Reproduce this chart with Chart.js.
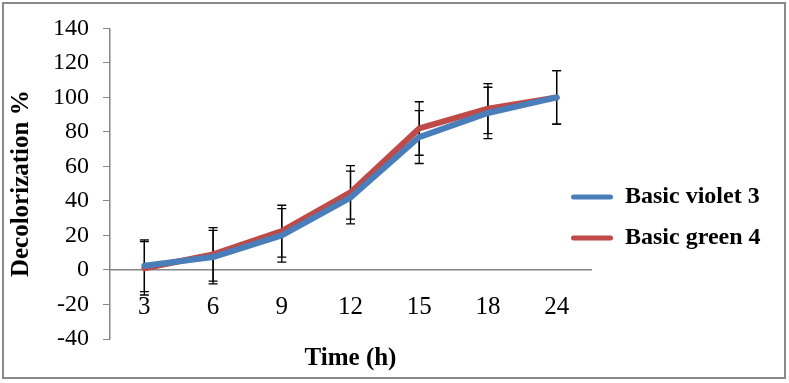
<!DOCTYPE html>
<html>
<head>
<meta charset="utf-8">
<script src="https://cdn.jsdelivr.net/npm/chart.js@4.4.0/dist/chart.umd.min.js"></script>
<style>
  html, body { margin: 0; padding: 0; background: #fff; }
</style>
</head>
<body>
<canvas id="decolorChart" width="789" height="383"></canvas>
<script>
// Decolorization (%) of two dyes over time, with error bars

var timeLabels = ['3', '6', '9', '12', '15', '18', '24'];
var violetValues = [2.5, 7.5, 20, 42, 77, 91, 100];
var violetErrors = [15, 15.5, 15.5, 15.3, 15.3, 14.9, 15.5];
var greenValues = [1, 9, 22.5, 45, 82, 93.5, 100];
var greenErrors = [15.5, 15.5, 15, 15.5, 15.5, 14.5, 15.5];
var yMin = -40, yMax = 140, yStep = 20;

var errorSets = [violetErrors, greenErrors];
var axisGrey = '#868686';
var serif = 'Liberation Serif';

// white page + grey frame round the whole picture
var frame = {
    id: 'frame',
    beforeDraw: function (chart) {
        var c = chart.ctx;
        c.save();
        c.fillStyle = '#fff';
        c.fillRect(0, 0, chart.width, chart.height);
        c.strokeStyle = '#8a8a8a';
        c.lineWidth = 2;
        c.strokeRect(3, 3, chart.width - 7, chart.height - 8);
        c.restore();
    }
};

// vertical error bars, drawn under the lines
var errorBars = {
    id: 'errorBars',
    beforeDatasetsDraw: function (chart) {
        var c = chart.ctx, xs = chart.scales.x, ys = chart.scales.y;
        c.save();
        c.strokeStyle = '#000';
        c.lineWidth = 1.3;
        chart.data.datasets.forEach(function (ds, d) {
            ds.data.forEach(function (v, i) {
                var err = errorSets[d][i];
                var px = xs.getPixelForValue(i);
                var top = ys.getPixelForValue(v + err);
                var bot = ys.getPixelForValue(v - err);
                c.beginPath();
                c.moveTo(px, top); c.lineTo(px, bot);
                c.moveTo(px - 4.5, top); c.lineTo(px + 4.5, top);
                c.moveTo(px - 4.5, bot); c.lineTo(px + 4.5, bot);
                c.stroke();
            });
        });
        c.restore();
    }
};

// the legend sits a little inside the plot, lower than centre
var legendNudge = {
    id: 'legendNudge',
    afterLayout: function (chart) {
        var lg = chart.legend;
        lg.left -= 37;
        lg.width += 37;
        lg.top += 38; lg.bottom += 38;
    }
};

var ctx = document.getElementById('decolorChart').getContext('2d');
var decolorChart = new Chart(ctx, {
    type: 'line',
    data: {
        labels: timeLabels,
        datasets: [{
            label: 'Basic violet 3',
            data: violetValues,
            borderColor: '#4A7EBB',
            backgroundColor: '#4A7EBB',
            borderWidth: 6,
            pointRadius: 0,
            tension: 0,
            borderCapStyle: 'round',
            borderJoinStyle: 'round'
        }, {
            label: 'Basic green 4',
            data: greenValues,
            borderColor: '#BE4B48',
            backgroundColor: '#BE4B48',
            borderWidth: 6,
            pointRadius: 0,
            tension: 0,
            borderCapStyle: 'round',
            borderJoinStyle: 'round'
        }]
    },
    options: {
        responsive: false,
        animation: false,
        layout: { padding: { top: 20, bottom: 44, left: 0, right: 0 } },
        plugins: {
            tooltip: { enabled: false },
            legend: {
                position: 'right',
                align: 'center',
                maxWidth: 198,
                labels: {
                    boxWidth: 42,
                    boxHeight: 5,
                    padding: 17,
                    color: '#000',
                    font: { family: serif, size: 24, weight: 'bold' },
                    generateLabels: function (chart) {
                        return Chart.defaults.plugins.legend.labels.generateLabels(chart).map(function (item) {
                            item.lineWidth = 0;
                            item.borderRadius = 2.5;
                            return item;
                        });
                    }
                }
            }
        },
        scales: {
            x: {
                position: { y: 0 },
                offset: true,
                grid: { display: false, drawTicks: false, tickLength: 0 },
                border: { display: true, color: axisGrey, width: 1.5 },
                ticks: {
                    color: '#000',
                    padding: 22,
                    font: { family: serif, size: 25 }
                },
                title: {
                    display: true,
                    text: 'Time (h)',
                    color: '#000',
                    font: { family: serif, size: 25, weight: 'bold' },
                    padding: { top: 0, bottom: 0 }
                }
            },
            y: {
                min: yMin,
                max: yMax,
                ticks: {
                    stepSize: yStep,
                    padding: 14,
                    color: '#000',
                    font: { family: serif, size: 24 }
                },
                grid: { drawOnChartArea: false, drawTicks: true, tickLength: 7, color: axisGrey },
                border: { color: axisGrey, width: 1.5 },
                title: {
                    display: true,
                    text: 'Decolorization %',
                    color: '#000',
                    font: { family: serif, size: 25, weight: 'bold' },
                    padding: { top: 7, bottom: 0 }
                },
                afterFit: function (scale) { scale.width = 110; }
            }
        }
    },
    plugins: [frame, errorBars, legendNudge]
});
</script>
</body>
</html>
